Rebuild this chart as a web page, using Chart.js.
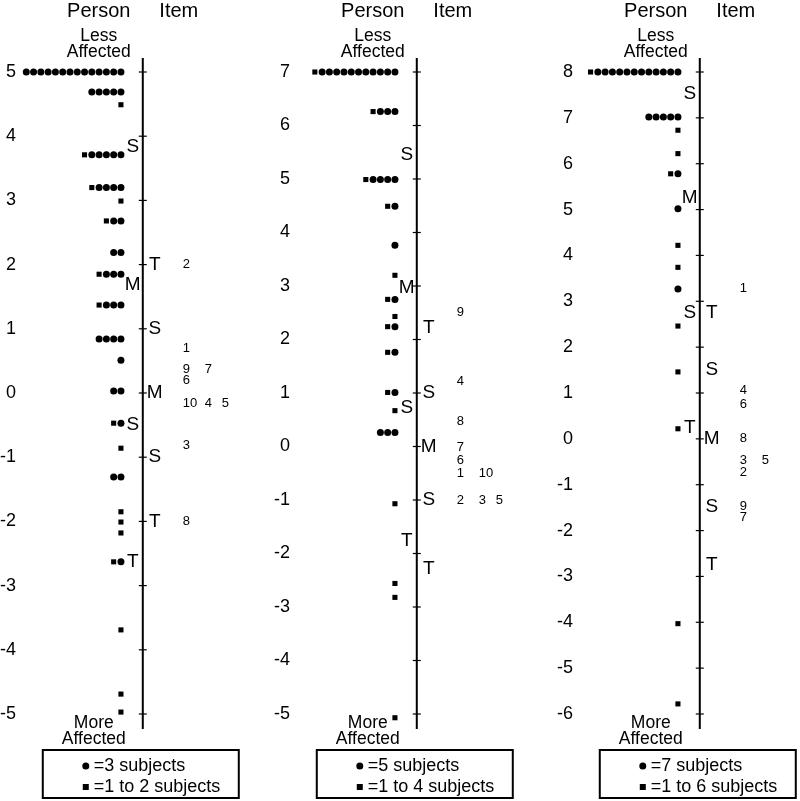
<!DOCTYPE html>
<html>
<head>
<meta charset="utf-8">
<script src="https://cdn.jsdelivr.net/npm/chart.js@4.4.1/dist/chart.umd.min.js"></script>
<style>
  html, body { margin: 0; padding: 0; background: #fff; overflow: hidden; }
  #wrap { position: relative; width: 800px; height: 801px; overflow: hidden; }
  canvas { position: absolute; top: 0; }
</style>
</head>
<body>
<div id="wrap">
  <canvas id="map1" width="263" height="801" style="left:-7px"></canvas>
  <canvas id="map2" width="263" height="801" style="left:267px"></canvas>
  <canvas id="map3" width="263" height="801" style="left:550px"></canvas>
</div>
<script>
// ---- Panel 1 ----
const p1Range = [-5, 5];
const p1Values = [5.0, 4.69, 4.49, 3.71, 3.2, 2.99, 2.68, 2.19, 1.85, 1.37, 0.84, 0.51, 0.03, -0.47, -0.86, -1.31, -1.85, -2.01, -2.18, -2.63, -3.69, -4.69, -4.97];
const p1Circles = [14, 5, 0, 5, 4, 0, 2, 2, 3, 3, 4, 1, 2, 1, 0, 2, 0, 0, 0, 1, 0, 0, 0];
const p1Squares = [0, 0, 1, 1, 1, 1, 1, 0, 1, 1, 0, 0, 0, 1, 1, 0, 1, 1, 1, 1, 1, 1, 1];
const p1PersonStatLabels = ['S', 'M', 'S', 'T'];
const p1PersonStatValues = [3.83, 1.68, -0.5, -2.63];
const p1ItemStatLabels = ['T', 'S', 'M', 'S', 'T'];
const p1ItemStatValues = [2, 1, 0, -1, -2];
const p1ItemLabels = ['2', '1', '9', '7', '6', '10', '4', '5', '3', '8'];
const p1ItemValues = [2.0, 0.69, 0.37, 0.37, 0.19, -0.16, -0.16, -0.16, -0.81, -2.0];
const p1ItemCols = [0, 0, 0, 1, 0, 0, 1, 2, 0, 0];
const p1Legend = ['=3 subjects', '=1 to 2 subjects'];

// ---- Panel 2 ----
const p2Range = [-5, 7];
const p2Values = [7.0, 6.26, 4.99, 4.49, 3.76, 3.2, 2.75, 2.43, 2.24, 1.76, 1.01, 0.67, 0.26, -1.07, -2.56, -2.82, -5.07];
const p2Circles = [11, 3, 4, 1, 1, 0, 1, 0, 1, 1, 1, 0, 3, 0, 0, 0, 0];
const p2Squares = [1, 1, 1, 1, 0, 1, 1, 1, 1, 1, 1, 1, 0, 1, 1, 1, 1];
const p2PersonStatLabels = ['S', 'M', 'S', 'T'];
const p2PersonStatValues = [5.46, 2.97, 0.73, -1.76];
const p2ItemStatLabels = ['T', 'S', 'M', 'S', 'T'];
const p2ItemStatValues = [2.22, 1.0, 0, -1.0, -2.28];
const p2ItemLabels = ['9', '4', '8', '7', '6', '1', '10', '2', '3', '5'];
const p2ItemValues = [2.5, 1.21, 0.47, -0.02, -0.26, -0.5, -0.5, -1.0, -1.0, -1.0];
const p2ItemCols = [0, 0, 0, 0, 0, 0, 1, 0, 1, 2];
const p2Legend = ['=5 subjects', '=1 to 4 subjects'];

// ---- Panel 3 ----
const p3Range = [-6, 8];
const p3Values = [8.0, 7.02, 6.73, 6.22, 5.78, 5.02, 4.22, 3.74, 3.27, 2.46, 1.46, 0.22, -4.03, -5.78];
const p3Circles = [12, 5, 0, 0, 1, 1, 0, 0, 1, 0, 0, 0, 0, 0];
const p3Squares = [1, 0, 1, 1, 1, 0, 1, 1, 0, 1, 1, 1, 1, 1];
const p3PersonStatLabels = ['S', 'M', 'S', 'T'];
const p3PersonStatValues = [7.52, 5.26, 2.76, 0.24];
const p3ItemStatLabels = ['T', 'S', 'M', 'S', 'T'];
const p3ItemStatValues = [2.74, 1.5, 0, -1.48, -2.74];
const p3ItemLabels = ['1', '4', '6', '8', '3', '5', '2', '9', '7'];
const p3ItemValues = [3.27, 1.05, 0.76, 0.0, -0.46, -0.46, -0.74, -1.48, -1.72];
const p3ItemCols = [0, 0, 0, 0, 0, 1, 0, 0, 0];
const p3Legend = ['=7 subjects', '=1 to 6 subjects'];

const FONT = '"Liberation Sans", Arial, Helvetica, sans-serif';
const itemColOffsets = [40, 62, 79]; // px right of the axis line

// Turn row counts into marker points; slot 0 is nearest the axis
function buildPoints(values, circles, squares) {
    let dots = [], boxes = [];
    values.forEach((v, i) => {
        for (let k = 0; k < circles[i]; k++) dots.push({ x: -3 - k, y: v });
        for (let k = 0; k < squares[i]; k++) boxes.push({ x: -3 - circles[i] - k, y: v });
    });
    return { dots, boxes };
}

const wrightPlugin = {
    id: 'wright',
    afterDatasetsDraw(chart, args, opts) {
        const ctx = chart.ctx;
        const xs = chart.scales.x, ys = chart.scales.y;
        const ax = xs.getPixelForValue(0);
        const area = chart.chartArea;
        ctx.save();
        ctx.strokeStyle = '#000';
        ctx.fillStyle = '#000';

        // vertical axis with crossing ticks
        ctx.lineWidth = 2;
        ctx.beginPath();
        ctx.moveTo(ax, area.top - 14);
        ctx.lineTo(ax, area.bottom + 15);
        ctx.stroke();
        ctx.lineWidth = 1.2;
        ys.ticks.forEach(t => {
            const y = ys.getPixelForValue(t.value);
            ctx.beginPath();
            ctx.moveTo(ax - 4, y);
            ctx.lineTo(ax + 4, y);
            ctx.stroke();
        });

        // headers
        ctx.textBaseline = 'middle';
        ctx.textAlign = 'center';
        ctx.font = '20px ' + FONT;
        ctx.fillText('Person', ax - 44, 11);
        ctx.fillText('Item', ax + 36, 11);
        ctx.font = '17.5px ' + FONT;
        ctx.fillText('Less', ax - 44, 36);
        ctx.fillText('Affected', ax - 44, 52);
        ctx.fillText('More', ax - 49, 723);
        ctx.fillText('Affected', ax - 49, 739);

        // M / S / T markers
        ctx.font = '19px ' + FONT;
        opts.personStatLabels.forEach((s, i) => {
            ctx.fillText(s, ax - 10, ys.getPixelForValue(opts.personStatValues[i]));
        });
        opts.itemStatLabels.forEach((s, i) => {
            ctx.fillText(s, ax + 12, ys.getPixelForValue(opts.itemStatValues[i]));
        });

        // item numbers
        ctx.textAlign = 'left';
        ctx.font = '13px ' + FONT;
        opts.itemLabels.forEach((s, i) => {
            ctx.fillText(s, ax + itemColOffsets[opts.itemCols[i]], ys.getPixelForValue(opts.itemValues[i]));
        });

        // legend box
        ctx.lineWidth = 2;
        ctx.strokeRect(ax - 100, 750, 196, 48);
        ctx.beginPath();
        ctx.arc(ax - 57, 766, 3.5, 0, Math.PI * 2);
        ctx.fill();
        ctx.fillRect(ax - 60, 784, 6, 6);
        ctx.font = '18px ' + FONT;
        ctx.fillText(opts.legend[0], ax - 49, 766);
        ctx.fillText(opts.legend[1], ax - 49, 787);
        ctx.restore();
    }
};

function makePanel(id, range, values, circles, squares, extra) {
    const pts = buildPoints(values, circles, squares);
    return new Chart(document.getElementById(id), {
        type: 'scatter',
        data: {
            datasets: [
                { data: pts.dots, pointStyle: 'circle', pointRadius: 3.5, backgroundColor: '#000', borderWidth: 0, clip: false },
                { data: pts.boxes, pointStyle: 'rect', pointRadius: 3.6, backgroundColor: '#000', borderWidth: 0, clip: false }
            ]
        },
        options: {
            responsive: false,
            animation: false,
            events: [],
            layout: { padding: { top: 72, bottom: 87, left: 0, right: 0 } },
            scales: {
                x: { type: 'linear', display: false, min: -17, max: 15 },
                y: {
                    type: 'linear',
                    position: 'left',
                    min: range[0],
                    max: range[1],
                    grid: { display: false, drawTicks: false },
                    border: { display: false },
                    ticks: { stepSize: 1, padding: 3, color: '#000', font: { family: FONT, size: 18 } },
                    afterFit: function (scale) { scale.width = 26; }
                }
            },
            plugins: {
                legend: { display: false },
                tooltip: { enabled: false },
                wright: extra
            }
        },
        plugins: [wrightPlugin]
    });
}

makePanel('map1', p1Range, p1Values, p1Circles, p1Squares, {
    personStatLabels: p1PersonStatLabels, personStatValues: p1PersonStatValues,
    itemStatLabels: p1ItemStatLabels, itemStatValues: p1ItemStatValues,
    itemLabels: p1ItemLabels, itemValues: p1ItemValues, itemCols: p1ItemCols,
    legend: p1Legend
});
makePanel('map2', p2Range, p2Values, p2Circles, p2Squares, {
    personStatLabels: p2PersonStatLabels, personStatValues: p2PersonStatValues,
    itemStatLabels: p2ItemStatLabels, itemStatValues: p2ItemStatValues,
    itemLabels: p2ItemLabels, itemValues: p2ItemValues, itemCols: p2ItemCols,
    legend: p2Legend
});
makePanel('map3', p3Range, p3Values, p3Circles, p3Squares, {
    personStatLabels: p3PersonStatLabels, personStatValues: p3PersonStatValues,
    itemStatLabels: p3ItemStatLabels, itemStatValues: p3ItemStatValues,
    itemLabels: p3ItemLabels, itemValues: p3ItemValues, itemCols: p3ItemCols,
    legend: p3Legend
});
</script>
</body>
</html>
